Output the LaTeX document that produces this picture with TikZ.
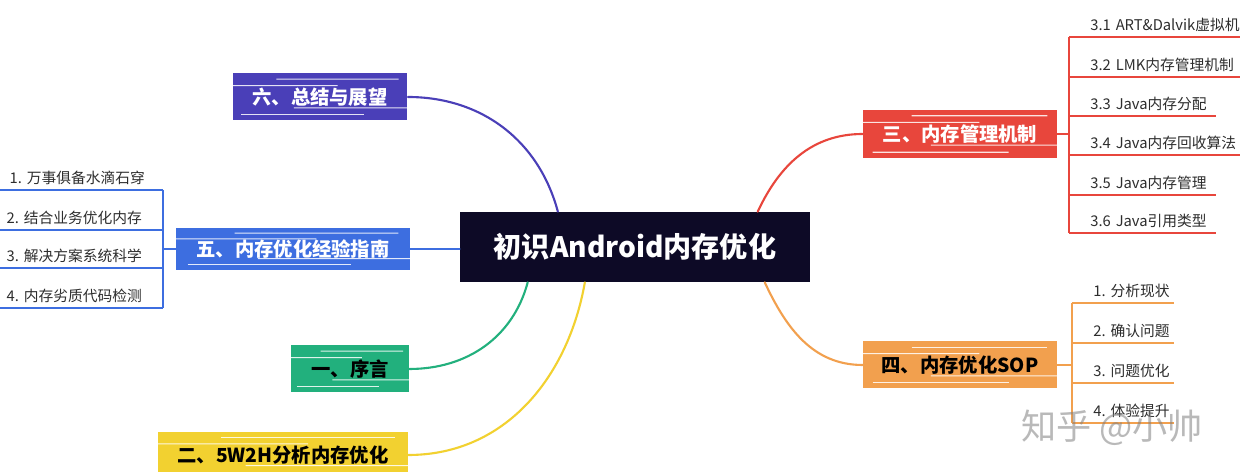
\documentclass[tikz,border=0pt]{standalone}
\usepackage{fontspec}
\setmainfont{Noto Sans CJK SC}
\usetikzlibrary{calc}

\definecolor{rootbg}{RGB}{13,10,38}
\definecolor{sixcol}{RGB}{74,63,184}
\definecolor{fivecol}{RGB}{61,110,224}
\definecolor{onecol}{RGB}{34,176,125}
\definecolor{twocol}{RGB}{242,209,48}
\definecolor{threecol}{RGB}{232,70,60}
\definecolor{fourcol}{RGB}{242,160,78}
\definecolor{leaftext}{RGB}{45,45,45}

\tikzset{
  brush/.style={fill=#1, inner sep=0pt,
    path picture={%
      \foreach \f/\a/\b in {0.12/0.05/0.75,0.27/0.35/1,0.74/0/0.6,0.88/0.25/0.95}{%
        \coordinate (bl) at ($(path picture bounding box.south west)!\f!(path picture bounding box.north west)$);
        \coordinate (br) at ($(path picture bounding box.south east)!\f!(path picture bounding box.north east)$);
        \draw[white, line width=0.6pt, opacity=0.85] ($(bl)!\a!(br)$) -- ($(bl)!\b!(br)$);
      }}},
  branch/.style={font=\fontsize{11}{13}\selectfont\bfseries},
  leaf/.style 2 args={anchor=south west, text width=#1, align=left,
    inner xsep=0pt, inner ysep=3pt, text=leaftext,
    font=\fontsize{8.4}{10}\selectfont,
    execute at begin node={\hspace*{#2}}},
  link/.style={line width=1.2pt, line cap=round},
  rule/.style={line width=0.8pt},
}

\begin{document}
\begin{tikzpicture}[x=0.02cm, y=0.02cm]
  \useasboundingbox[fill=white] (0,0) rectangle (1240,472);

  % Root.
  \node[fill=rootbg, text=white, minimum width=7cm, minimum height=1.4cm,
        font=\fontsize{16}{19}\selectfont\bfseries] (root) at (635,225) {初识Android内存优化};

  % Left branches.
  \node[branch, brush=sixcol, text=white, minimum width=3.5cm, minimum height=0.94cm] (six) at (320,375) {六、总结与展望};
  \node[branch, brush=fivecol, text=white, minimum width=4.68cm, minimum height=0.84cm] (five) at (293,223) {五、内存优化经验指南};
  \node[branch, brush=onecol, text=black, minimum width=2.36cm, minimum height=0.94cm] (one) at (350,103) {一、序言};
  \node[branch, brush=twocol, text=black, minimum width=5cm, minimum height=0.92cm] (two) at (283,17) {二、5W2H分析内存优化};

  % Right branches.
  \node[branch, brush=threecol, text=white, minimum width=3.88cm, minimum height=0.96cm] (three) at (960,338) {三、内存管理机制};
  \node[branch, brush=fourcol, text=black, minimum width=3.88cm, minimum height=0.94cm] (four) at (960,107) {四、内存优化SOP};

  % Links.
  \draw[link, sixcol] (six.east) to[out=0, in=105] ($(root.north west)!0.28!(root.north east)$);
  \draw[link, fivecol] (five.east) -- (root.west |- five.east);
  \draw[link, onecol] (one.east) to[out=0, in=-105] ($(root.south west)!0.194!(root.south east)$);
  \draw[link, twocol] (two.east) to[out=0, in=-100] ($(root.south west)!0.357!(root.south east)$);
  \draw[link, threecol] ($(root.north west)!0.85!(root.north east)$) to[out=65, in=180] (three.west);
  \draw[link, fourcol] ($(root.south west)!0.87!(root.south east)$) to[out=-65, in=180] (four.west);

  % Leaves of 三.
  \node[leaf={3.42cm}{0.42cm}] (l31) at (1069,435) {3.1~ART\&Dalvik虚拟机};
  \node[leaf={3.42cm}{0.42cm}] (l32) at (1069,395) {3.2~LMK内存管理机制};
  \node[leaf={2.92cm}{0.42cm}] (l33) at (1069,356) {3.3~Java内存分配};
  \node[leaf={3.42cm}{0.42cm}] (l34) at (1069,317) {3.4~Java内存回收算法};
  \node[leaf={2.92cm}{0.42cm}] (l35) at (1069,277) {3.5~Java内存管理};
  \node[leaf={2.92cm}{0.42cm}] (l36) at (1069,239) {3.6~Java引用类型};
  \foreach \n in {l31,l32,l33,l34,l35,l36}
    \draw[rule, threecol] (\n.south west) -- (\n.south east);
  \draw[rule, threecol] (l31.south west) -- (l36.south west);
  \draw[rule, threecol] (three.east) -- (three.east -| l31.south west);

  % Leaves of 四.
  \node[leaf={2.02cm}{0.42cm}] (l41) at (1072,169) {1.~分析现状};
  \node[leaf={2.02cm}{0.42cm}] (l42) at (1072,129) {2.~确认问题};
  \node[leaf={2.02cm}{0.42cm}] (l43) at (1072,89) {3.~问题优化};
  \node[leaf={2.02cm}{0.42cm}] (l44) at (1072,49) {4.~体验提升};
  \foreach \n in {l41,l42,l43,l44}
    \draw[rule, fourcol] (\n.south west) -- (\n.south east);
  \draw[rule, fourcol] (l41.south west) -- (l44.south west);
  \draw[rule, fourcol] (four.east) -- (four.east -| l41.south west);

  % Leaves of 五.
  \node[leaf={3.26cm}{0.2cm}, anchor=south east] (l51) at (163,282) {1.~万事俱备水滴石穿};
  \node[leaf={3.26cm}{0.14cm}, anchor=south east] (l52) at (163,242) {2.~结合业务优化内存};
  \node[leaf={3.26cm}{0.14cm}, anchor=south east] (l53) at (163,204) {3.~解决方案系统科学};
  \node[leaf={3.26cm}{0.14cm}, anchor=south east] (l54) at (163,164) {4.~内存劣质代码检测};
  \foreach \n in {l51,l52,l53,l54}
    \draw[rule, fivecol] (\n.south west) -- (\n.south east);
  \draw[rule, fivecol] (l51.south east) -- (l54.south east);
  \draw[rule, fivecol] (five.west) -- (five.west -| l51.south east);

  % Watermark.
  \node[text=gray, opacity=0.55, font=\fontsize{20}{24}\selectfont] (mark) at (1112,44) {知乎~@小帅};
\end{tikzpicture}
\end{document}
